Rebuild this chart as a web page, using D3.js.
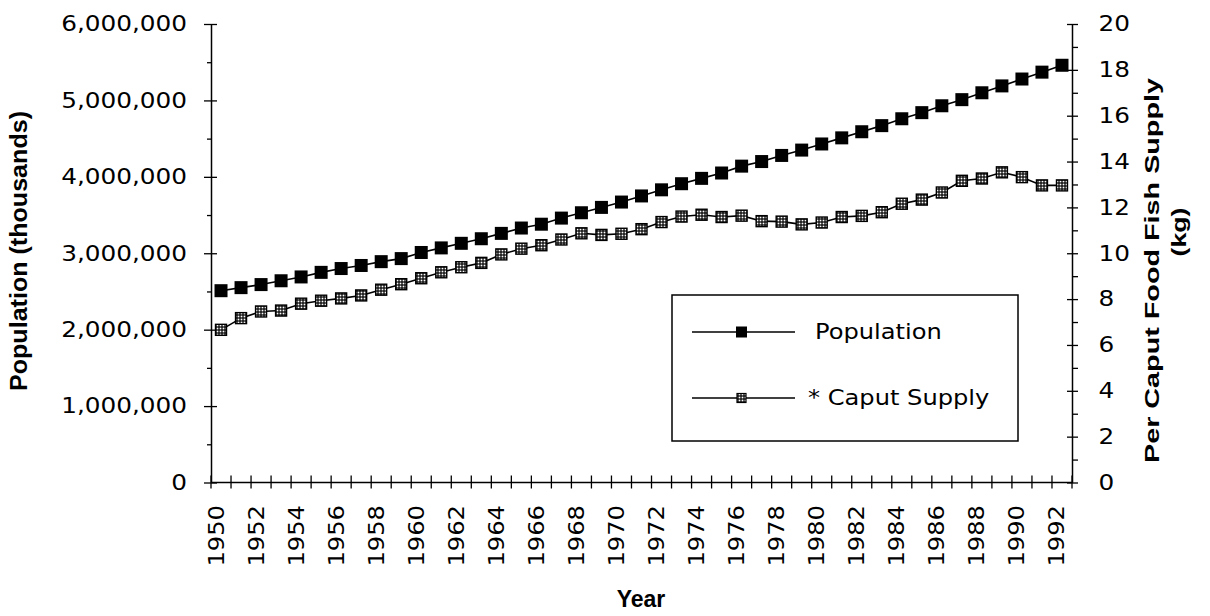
<!DOCTYPE html>
<html>
<head>
<meta charset="utf-8">
<script src="https://cdn.jsdelivr.net/npm/d3@7"></script>
<style>
  body { margin: 0; background: #fff; }
  svg { display: block; }
</style>
</head>
<body>
<script>
// Data
const years = [1950, 1951, 1952, 1953, 1954, 1955, 1956, 1957, 1958, 1959,
    1960, 1961, 1962, 1963, 1964, 1965, 1966, 1967, 1968, 1969,
    1970, 1971, 1972, 1973, 1974, 1975, 1976, 1977, 1978, 1979,
    1980, 1981, 1982, 1983, 1984, 1985, 1986, 1987, 1988, 1989,
    1990, 1991, 1992];

// world population, thousands
const population = [2510000, 2550000, 2590000, 2640000, 2690000, 2750000, 2800000, 2840000, 2890000, 2930000,
    3010000, 3070000, 3130000, 3190000, 3260000, 3330000, 3380000, 3460000, 3530000, 3600000,
    3670000, 3750000, 3830000, 3910000, 3980000, 4050000, 4140000, 4200000, 4280000, 4350000,
    4430000, 4510000, 4590000, 4670000, 4760000, 4840000, 4930000, 5010000, 5100000, 5190000,
    5280000, 5370000, 5460000];

// per caput food fish supply, kg
const caputSupply = [6.66, 7.17, 7.46, 7.50, 7.80, 7.93, 8.03, 8.16, 8.41, 8.65,
    8.91, 9.17, 9.39, 9.58, 9.95, 10.20, 10.35, 10.60, 10.87, 10.80,
    10.85, 11.05, 11.36, 11.60, 11.68, 11.58, 11.64, 11.40, 11.38, 11.26,
    11.34, 11.58, 11.63, 11.79, 12.16, 12.34, 12.65, 13.16, 13.26, 13.53,
    13.32, 12.96, 12.96];

const leftTicks = [0, 1000000, 2000000, 3000000, 4000000, 5000000, 6000000];
const leftMinor = [500000, 1500000, 2500000, 3500000, 4500000, 5500000];
const rightTicks = [0, 2, 4, 6, 8, 10, 12, 14, 16, 18, 20];
const rightMinor = [1, 3, 5, 7, 9, 11, 13, 15, 17, 19];
const yearLabels = years.filter((d, i) => i % 2 === 0);

const width = 1210;
const height = 616;
const x0 = 211, x1 = 1072, yTop = 24, yBot = 482.5;
const sx = 1.15; // the scanned type is wider than DejaVu Sans
const tickFont = "'DejaVu Sans', sans-serif";
const titleFont = "'Liberation Sans', Arial, sans-serif";

const svg = d3.select("body").append("svg")
    .attr("width", width)
    .attr("height", height);

// hatched fill for the caput supply markers
const pat = svg.append("defs").append("pattern")
    .attr("id", "dots")
    .attr("patternUnits", "userSpaceOnUse")
    .attr("width", 3)
    .attr("height", 3);
pat.append("rect").attr("width", 3).attr("height", 3).attr("fill", "#000");
pat.append("rect").attr("x", 0.6).attr("y", 0.6).attr("width", 1.8).attr("height", 1.8).attr("fill", "#fff");

const x = d3.scaleBand().domain(years).range([x0, x1]).padding(0);
const cx = d => x(d) + x.bandwidth() / 2;
const yL = d3.scaleLinear().domain([0, 6000000]).range([yBot, yTop]);
const yR = d3.scaleLinear().domain([0, 20]).range([yBot, yTop]);

// left axis
const gL = svg.append("g").attr("transform", `translate(${x0},0)`);
gL.append("g")
    .call(d3.axisLeft(yL).tickValues(leftMinor).tickSize(4).tickFormat(""))
    .call(g => g.select(".domain").remove())
    .selectAll("line").attr("stroke-width", 1.3);
gL.append("g")
    .call(d3.axisLeft(yL).tickValues(leftTicks).tickSize(0).tickPadding(24)
        .tickFormat(d3.format(",")))
    .call(g => g.select(".domain").attr("stroke-width", 1.5))
    .call(g => g.selectAll(".tick line").attr("x1", -7).attr("x2", 6).attr("stroke-width", 1.3))
    .call(g => g.selectAll(".tick text")
        .attr("font-family", tickFont).attr("font-size", 21.5).attr("fill", "#000")
        .attr("x", -24 / sx).attr("transform", `scale(${sx},1)`));

// right axis
const gR = svg.append("g").attr("transform", `translate(${x1},0)`);
gR.append("g")
    .call(d3.axisRight(yR).tickValues(rightMinor).tickSize(6).tickFormat(""))
    .call(g => g.select(".domain").remove())
    .selectAll("line").attr("stroke-width", 1.3);
gR.append("g")
    .call(d3.axisRight(yR).tickValues(rightTicks).tickSize(0).tickPadding(26))
    .call(g => g.select(".domain").attr("stroke-width", 1.5))
    .call(g => g.selectAll(".tick line").attr("x1", -5).attr("x2", 6).attr("stroke-width", 1.3))
    .call(g => g.selectAll(".tick text")
        .attr("font-family", tickFont).attr("font-size", 21.5).attr("fill", "#000")
        .attr("x", 26.5 / sx).attr("transform", `scale(${sx},1)`));

// x axis: line, category boundary ticks, rotated labels
svg.append("line")
    .attr("x1", x0).attr("x2", x1)
    .attr("y1", yBot).attr("y2", yBot)
    .attr("stroke", "#000").attr("stroke-width", 1.5);
svg.append("g").selectAll("line")
    .data(years)
    .join("line")
        .attr("x1", d => x(d)).attr("x2", d => x(d))
        .attr("y1", yBot - 7).attr("y2", yBot + 6)
        .attr("stroke", "#000").attr("stroke-width", 1.3);
svg.append("line")
    .attr("x1", x.range()[1]).attr("x2", x.range()[1])
    .attr("y1", yBot - 7).attr("y2", yBot + 6)
    .attr("stroke", "#000").attr("stroke-width", 1.3);
svg.append("g").selectAll("text")
    .data(yearLabels)
    .join("text")
        .attr("transform", d => `translate(${cx(d) + 2.5},505) rotate(-90) scale(1.1,1)`)
        .attr("text-anchor", "end")
        .attr("font-family", tickFont)
        .attr("font-size", 22)
        .text(d => d);

// titles
svg.append("text")
    .attr("transform", "translate(27,251) rotate(-90)")
    .attr("text-anchor", "middle")
    .attr("font-family", titleFont).attr("font-weight", "bold").attr("font-size", 23)
    .attr("textLength", 280).attr("lengthAdjust", "spacingAndGlyphs")
    .text("Population (thousands)");
svg.append("text")
    .attr("transform", "translate(1159,270.5) rotate(-90)")
    .attr("text-anchor", "middle")
    .attr("font-family", titleFont).attr("font-weight", "bold").attr("font-size", 21)
    .attr("textLength", 385).attr("lengthAdjust", "spacingAndGlyphs")
    .text("Per Caput Food Fish Supply");
svg.append("text")
    .attr("transform", "translate(1186,232) rotate(-90)")
    .attr("text-anchor", "middle")
    .attr("font-family", titleFont).attr("font-weight", "bold").attr("font-size", 21)
    .attr("textLength", 49).attr("lengthAdjust", "spacingAndGlyphs")
    .text("(kg)");
svg.append("text")
    .attr("x", 641).attr("y", 607)
    .attr("text-anchor", "middle")
    .attr("font-family", titleFont).attr("font-weight", "bold").attr("font-size", 23)
    .text("Year");

// legend box (drawn under the series)
svg.append("rect")
    .attr("x", 672).attr("y", 295).attr("width", 346).attr("height", 146)
    .attr("fill", "#fff").attr("stroke", "#000").attr("stroke-width", 1.5);

// series
const linePop = d3.line().x((d, i) => cx(years[i])).y(d => yL(d));
const lineCaput = d3.line().x((d, i) => cx(years[i])).y(d => yR(d));

svg.append("path")
    .datum(caputSupply)
    .attr("d", lineCaput)
    .attr("fill", "none").attr("stroke", "#000").attr("stroke-width", 1.6);
svg.append("g").selectAll("rect")
    .data(caputSupply)
    .join("rect")
        .attr("x", (d, i) => cx(years[i]) - 5.5)
        .attr("y", d => yR(d) - 5.5)
        .attr("width", 11).attr("height", 11)
        .attr("fill", "url(#dots)").attr("stroke", "#000").attr("stroke-width", 1.4);

svg.append("path")
    .datum(population)
    .attr("d", linePop)
    .attr("fill", "none").attr("stroke", "#000").attr("stroke-width", 1.6);
svg.append("g").selectAll("rect")
    .data(population)
    .join("rect")
        .attr("x", (d, i) => cx(years[i]) - 6.5)
        .attr("y", d => yL(d) - 6.5)
        .attr("width", 13).attr("height", 13)
        .attr("fill", "#000");

// legend entries
const legend = [
    { label: "Population", y: 332, tx: 815, kind: "pop" },
    { label: "* Caput Supply", y: 398, tx: 808, kind: "caput" }
];
const lg = svg.append("g");
lg.selectAll("line")
    .data(legend)
    .join("line")
        .attr("x1", 692).attr("x2", 795)
        .attr("y1", d => d.y).attr("y2", d => d.y)
        .attr("stroke", "#000").attr("stroke-width", 1.5);
lg.selectAll("rect")
    .data(legend)
    .join("rect")
        .attr("x", d => d.kind === "pop" ? 736 : 737)
        .attr("y", d => d.kind === "pop" ? d.y - 5.5 : d.y - 4.5)
        .attr("width", d => d.kind === "pop" ? 11 : 9)
        .attr("height", d => d.kind === "pop" ? 11 : 9)
        .attr("fill", d => d.kind === "pop" ? "#000" : "url(#dots)")
        .attr("stroke", "#000").attr("stroke-width", d => d.kind === "pop" ? 0 : 1.2);
lg.selectAll("text")
    .data(legend)
    .join("text")
        .attr("transform", d => `translate(${d.tx},${d.y + 6.5}) scale(${sx},1)`)
        .attr("font-family", tickFont).attr("font-size", 21)
        .text(d => d.label);
</script>
</body>
</html>
